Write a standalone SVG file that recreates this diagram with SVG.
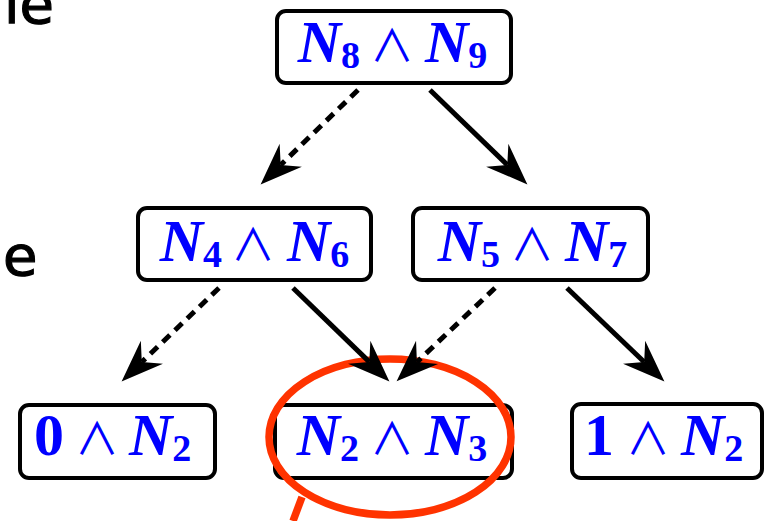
<svg xmlns="http://www.w3.org/2000/svg" width="764" height="521" viewBox="0 0 764 521">
<style>
.box{fill:#fff;stroke:#000;stroke-width:4}
.lbl{font-family:"Liberation Serif","DejaVu Serif",serif;font-size:60px;fill:#0000ff}
.l{text-anchor:end}
.r{text-anchor:start}
.N{font-weight:bold;font-style:italic}
.sub{font-weight:bold;font-style:normal;font-size:38px}
.op{font-family:"Noto Sans CJK JP","DejaVu Sans",sans-serif;font-weight:normal;font-size:44px;fill:#0000ff;text-anchor:middle}
.num{font-weight:bold;font-style:normal}
.edge{stroke:#000;stroke-width:5;fill:none}
.dash{stroke-dasharray:10 7}
.hand{font-family:"DejaVu Sans",sans-serif;font-size:56px;fill:#000;stroke:#000;stroke-width:1.2}
</style>
<defs>
<marker id="ah" markerUnits="userSpaceOnUse" markerWidth="48" markerHeight="38" viewBox="-16 -19 48 38" refX="0" refY="0" orient="auto" overflow="visible">
<path d="M28,0 L-14,-16 L0,0 L-14,16 Z" fill="#000"/>
</marker>
</defs>
<text class="hand" x="4" y="23">le</text>
<text class="hand" x="3" y="275">e</text>

<g id="n89"><rect class="box" x="277" y="11" width="234" height="72" rx="9"/>
<text class="lbl l" x="360" y="62"><tspan class="N">N</tspan><tspan class="sub" dy="6">8</tspan></text>
<text class="op" x="392" y="62">∧</text>
<text class="lbl r" x="425" y="62"><tspan class="N">N</tspan><tspan class="sub" dy="6">9</tspan></text></g>

<g id="n46"><rect class="box" x="138" y="208" width="233" height="72" rx="9"/>
<text class="lbl l" x="222" y="261"><tspan class="N">N</tspan><tspan class="sub" dy="6">4</tspan></text>
<text class="op" x="253" y="261">∧</text>
<text class="lbl r" x="287" y="261"><tspan class="N">N</tspan><tspan class="sub" dy="6">6</tspan></text></g>

<g id="n57"><rect class="box" x="413" y="208" width="235" height="72" rx="9"/>
<text class="lbl l" x="500" y="261"><tspan class="N">N</tspan><tspan class="sub" dy="6">5</tspan></text>
<text class="op" x="532" y="261">∧</text>
<text class="lbl r" x="565" y="261"><tspan class="N">N</tspan><tspan class="sub" dy="6">7</tspan></text></g>

<g id="n0"><rect class="box" x="20" y="405" width="195" height="73" rx="9"/>
<text class="lbl l" x="64" y="455"><tspan class="num">0</tspan></text>
<text class="op" x="97" y="455">∧</text>
<text class="lbl r" x="129" y="455"><tspan class="N">N</tspan><tspan class="sub" dy="6">2</tspan></text></g>

<g id="n23"><rect class="box" x="275" y="405" width="237" height="73" rx="9"/>
<text class="lbl l" x="359" y="455"><tspan class="N">N</tspan><tspan class="sub" dy="6">2</tspan></text>
<text class="op" x="392" y="455">∧</text>
<text class="lbl r" x="425" y="455"><tspan class="N">N</tspan><tspan class="sub" dy="6">3</tspan></text></g>

<g id="n1"><rect class="box" x="572" y="404" width="190" height="74" rx="9"/>
<text class="lbl l" x="614" y="455"><tspan class="num">1</tspan></text>
<text class="op" x="648" y="455">∧</text>
<text class="lbl r" x="681" y="455"><tspan class="N">N</tspan><tspan class="sub" dy="6">2</tspan></text></g>

<g id="highlight">
<ellipse cx="390" cy="437" rx="121" ry="78" fill="none" stroke="#ff3300" stroke-width="7.5"/>
<line x1="302" y1="497" x2="293" y2="521" stroke="#ff3300" stroke-width="7.5"/>
</g>

<g id="connectors">
<line class="edge dash" x1="358" y1="90" x2="280.7" y2="164.9" marker-end="url(#ah)"/>
<line class="edge" x1="430" y1="90" x2="507.3" y2="164.9" marker-end="url(#ah)"/>
<line class="edge dash" x1="219" y1="288" x2="141.8" y2="362" marker-end="url(#ah)"/>
<line class="edge" x1="293" y1="288" x2="369.3" y2="361.9" marker-end="url(#ah)"/>
<line class="edge dash" x1="495" y1="288" x2="416.9" y2="362.1" marker-end="url(#ah)"/>
<line class="edge" x1="567" y1="288" x2="644.2" y2="362" marker-end="url(#ah)"/>
</g>
</svg>
